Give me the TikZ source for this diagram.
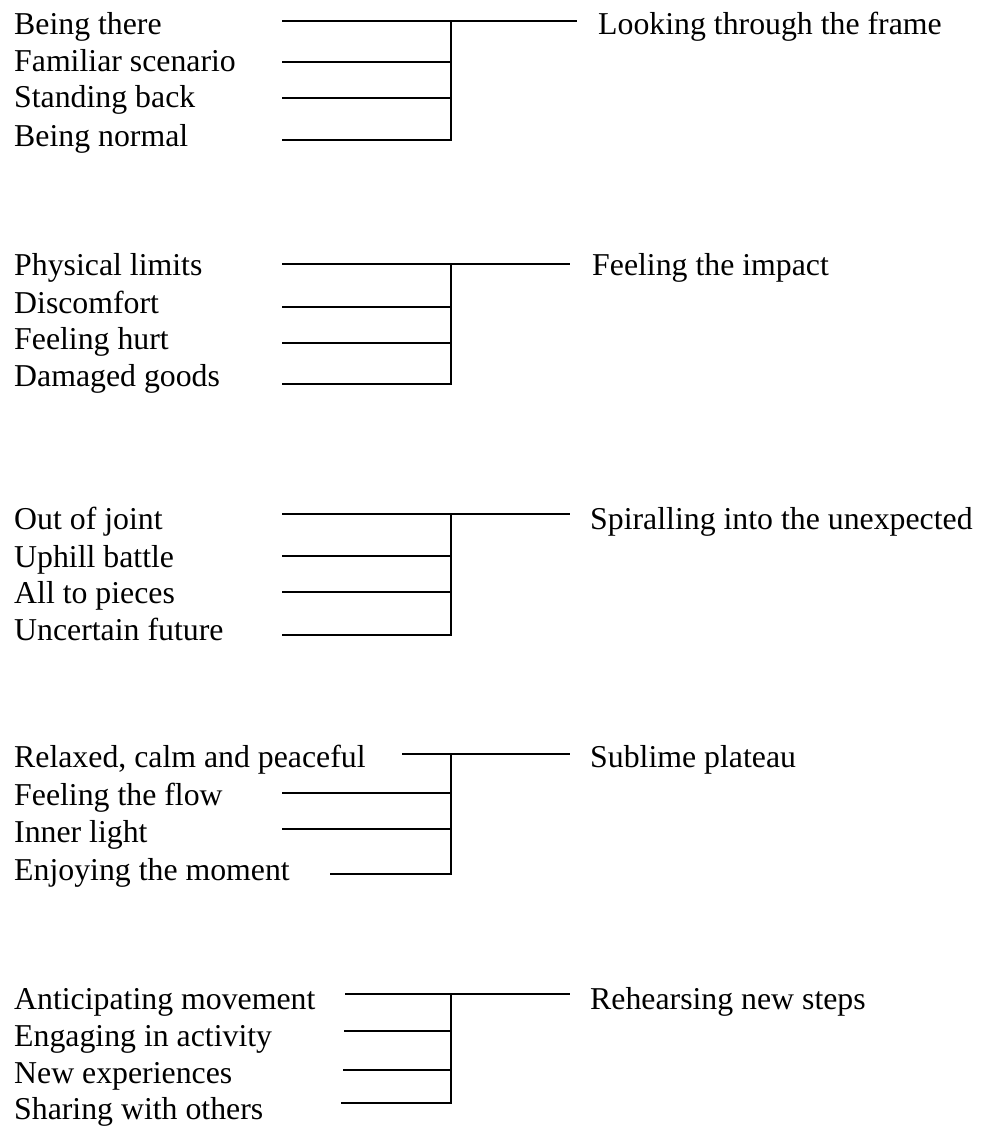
\documentclass[tikz,border=0pt]{standalone}
\usepackage{fontspec}
\setmainfont{Liberation Serif}
\begin{document}
\begin{tikzpicture}[x=1pt,y=-1pt,
  item/.style={anchor=base west, inner sep=0pt, font=\fontsize{31.8}{38}\selectfont},
  link/.style={line width=1.6pt, line join=miter},
  every path/.append style={black}]
\useasboundingbox (0,0) rectangle (981,1126);

% ---------- Looking through the frame ----------
\node[item] (g1a) at (14,35)  {Being there};
\node[item] (g1b) at (14,72)  {Familiar scenario};
\node[item] (g1c) at (14,108) {Standing back};
\node[item] (g1d) at (14,147) {Being normal};
\node[item] (g1h) at (598,35) {Looking through the frame};
\coordinate (g1s1) at (282,21);  \coordinate (g1j1) at (451,21);
\coordinate (g1s2) at (282,62);  \coordinate (g1j2) at (451,62);
\coordinate (g1s3) at (282,98);  \coordinate (g1j3) at (451,98);
\coordinate (g1s4) at (282,140); \coordinate (g1j4) at (451,140);
\coordinate (g1e) at (577,21);
\draw[link] (g1s1) -- (g1e);
\draw[link] (g1s2) -- (g1j2);
\draw[link] (g1s3) -- (g1j3);
\draw[link] (g1s4) -- (g1j4) -- (g1j1);

% ---------- Feeling the impact ----------
\node[item] (g2a) at (14,275) {Physical limits};
\node[item] (g2b) at (14,313) {Discomfort};
\node[item] (g2c) at (14,349) {Feeling hurt};
\node[item] (g2d) at (14,386) {Damaged goods};
\node[item] (g2h) at (592,275) {Feeling the impact};
\coordinate (g2s1) at (282,264); \coordinate (g2j1) at (451,264);
\coordinate (g2s2) at (282,307); \coordinate (g2j2) at (451,307);
\coordinate (g2s3) at (282,343); \coordinate (g2j3) at (451,343);
\coordinate (g2s4) at (282,384); \coordinate (g2j4) at (451,384);
\coordinate (g2e) at (570,264);
\draw[link] (g2s1) -- (g2e);
\draw[link] (g2s2) -- (g2j2);
\draw[link] (g2s3) -- (g2j3);
\draw[link] (g2s4) -- (g2j4) -- (g2j1);

% ---------- Spiralling into the unexpected ----------
\node[item] (g3a) at (14,529) {Out of joint};
\node[item] (g3b) at (14,567) {Uphill battle};
\node[item] (g3c) at (14,603) {All to pieces};
\node[item] (g3d) at (14,640) {Uncertain future};
\node[item] (g3h) at (590,529) {Spiralling into the unexpected};
\coordinate (g3s1) at (282,514); \coordinate (g3j1) at (451,514);
\coordinate (g3s2) at (282,556); \coordinate (g3j2) at (451,556);
\coordinate (g3s3) at (282,592); \coordinate (g3j3) at (451,592);
\coordinate (g3s4) at (282,635); \coordinate (g3j4) at (451,635);
\coordinate (g3e) at (570,514);
\draw[link] (g3s1) -- (g3e);
\draw[link] (g3s2) -- (g3j2);
\draw[link] (g3s3) -- (g3j3);
\draw[link] (g3s4) -- (g3j4) -- (g3j1);

% ---------- Sublime plateau ----------
\node[item] (g4a) at (14,767) {Relaxed, calm and peaceful};
\node[item] (g4b) at (14,805) {Feeling the flow};
\node[item] (g4c) at (14,842) {Inner light};
\node[item] (g4d) at (14,880) {Enjoying the moment};
\node[item] (g4h) at (590,767) {Sublime plateau};
\coordinate (g4s1) at (402,754); \coordinate (g4j1) at (451,754);
\coordinate (g4s2) at (282,793); \coordinate (g4j2) at (451,793);
\coordinate (g4s3) at (282,829); \coordinate (g4j3) at (451,829);
\coordinate (g4s4) at (330,874); \coordinate (g4j4) at (451,874);
\coordinate (g4e) at (570,754);
\draw[link] (g4s1) -- (g4e);
\draw[link] (g4s2) -- (g4j2);
\draw[link] (g4s3) -- (g4j3);
\draw[link] (g4s4) -- (g4j4) -- (g4j1);

% ---------- Rehearsing new steps ----------
\node[item] (g5a) at (14,1009) {Anticipating movement};
\node[item] (g5b) at (14,1046) {Engaging in activity};
\node[item] (g5c) at (14,1083) {New experiences};
\node[item] (g5d) at (14,1119) {Sharing with others};
\node[item] (g5h) at (590,1009) {Rehearsing new steps};
\coordinate (g5s1) at (345,994);  \coordinate (g5j1) at (451,994);
\coordinate (g5s2) at (344,1031); \coordinate (g5j2) at (451,1031);
\coordinate (g5s3) at (343,1070); \coordinate (g5j3) at (451,1070);
\coordinate (g5s4) at (341,1103); \coordinate (g5j4) at (451,1103);
\coordinate (g5e) at (570,994);
\draw[link] (g5s1) -- (g5e);
\draw[link] (g5s2) -- (g5j2);
\draw[link] (g5s3) -- (g5j3);
\draw[link] (g5s4) -- (g5j4) -- (g5j1);
\end{tikzpicture}
\end{document}
